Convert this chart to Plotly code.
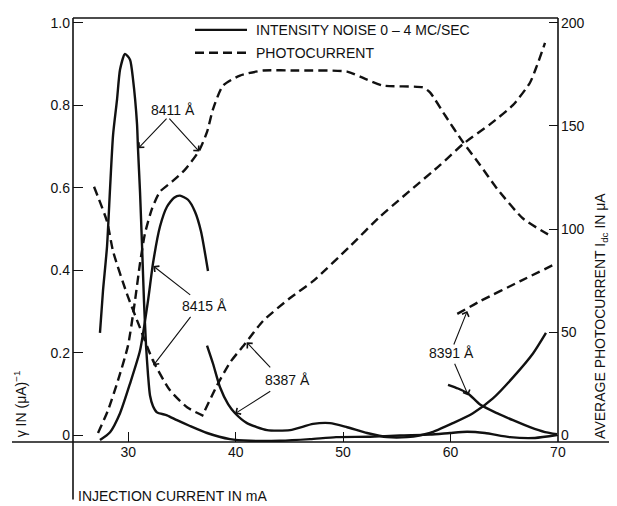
import plotly.graph_objects as go

# ---------------- data ----------------
# Intensity noise gamma (left axis, (uA)^-1), solid lines
s8411_x = [27.36, 27.64, 28.02, 28.30, 28.58, 28.95, 29.23, 29.69, 30.16, 30.44, 30.81, 30.90, 31.09,
           31.28, 31.46, 31.65, 31.84, 32.02, 32.30, 32.67, 33.6, 34.53, 35.74, 37.33, 39.47, 41.33,
           44.12, 46.92, 49.34, 52.5, 55.3, 58.09, 59.95, 61.54, 63.21, 65.54, 67.87, 69.92]
s8411_g = [0.248, 0.349, 0.458, 0.598, 0.728, 0.814, 0.887, 0.925, 0.911, 0.863, 0.755, 0.696, 0.590,
           0.458, 0.325, 0.217, 0.145, 0.096, 0.070, 0.055, 0.048, 0.036, 0.022, 0.005, -0.010, -0.014,
           -0.014, -0.010, -0.005, -0.004, -0.001, 0.001, 0.005, 0.008, 0.005, -0.005, -0.007, 0.0]

s8415_x = [27.36, 28.3, 29.23, 30.16, 31.09, 31.83, 32.3, 32.95, 33.6, 34.26, 34.81, 35.56, 36.21, 36.77, 37.42]
s8415_g = [-0.012, 0.007, 0.053, 0.125, 0.205, 0.325, 0.417, 0.506, 0.554, 0.576, 0.581, 0.571, 0.542, 0.494, 0.398]

s8387_x = [37.33, 37.89, 38.54, 39.29, 39.94, 41.05, 42.92, 45.06, 47.2, 48.78, 50.37, 52.23, 54.09,
           55.95, 58.09, 60.23, 62.09, 63.95, 65.82, 67.68, 68.89]
s8387_g = [0.217, 0.173, 0.116, 0.075, 0.053, 0.029, 0.012, 0.012, 0.027, 0.029, 0.019, 0.005, -0.005,
           -0.005, 0.005, 0.029, 0.053, 0.089, 0.140, 0.198, 0.248]

s8391_x = [59.77, 60.7, 61.63, 62.75, 64.33, 65.82, 67.4, 68.8, 69.92]
s8391_g = [0.122, 0.113, 0.101, 0.074, 0.053, 0.036, 0.019, 0.007, 0.002]

# Average photocurrent (right axis, uA), dashed lines
p8411_x = [27.18, 28.11, 29.04, 29.97, 30.62, 31.09, 31.55, 32.21, 32.95, 34.07, 35.28, 36.58, 37.33,
           37.89, 38.82, 40.4, 42.55, 45.71, 50.37, 52.23, 53.72, 57.44, 58.09, 59.49, 61.16, 62.75,
           64.33, 66.75, 69.08]
p8411_i = [1.0, 12.0, 26.5, 43.4, 65.1, 83.4, 97.8, 109.9, 118.1, 123.0, 128.8, 137.9, 147.1,
           158.2, 169.6, 174.5, 176.9, 176.9, 176.4, 172.5, 169.6, 168.7, 166.3, 155.2, 142.2, 131.1,
           119.6, 105.1, 97.4]

p8415_x = [26.81, 28.02, 28.58, 29.88, 31.09, 32.3, 33.88, 35.47, 37.42]
p8415_i = [120.5, 103.6, 89.2, 68.4, 52.0, 36.1, 21.7, 13.5, 8.2]

p8387_x = [37.14, 38.26, 39.47, 40.87, 42.55, 45.06, 47.2, 50.64, 53.43, 59.02, 61.16, 63.67, 65.81,
           67.4, 68.05, 68.8]
p8387_i = [12.0, 24.1, 35.2, 44.3, 55.4, 66.5, 74.7, 91.6, 106.0, 131.0, 141.2, 150.8, 160.1,
           171.0, 179.3, 190.3]

p8391_x = [60.63, 62.77, 66.5, 69.9]
p8391_i = [58.8, 65.0, 74.7, 83.4]

x_ticks = [30, 40, 50, 60, 70]
g_ticks = [0, 0.2, 0.4, 0.6, 0.8, 1.0]
g_labels = ["0", "0.2", "0.4", "0.6", "0.8", "1.0"]
i_ticks = [0, 50, 100, 150, 200]

# ---------------- figure ----------------
FONT = "Liberation Sans, Arial, sans-serif"
BLACK = "#111111"
SOLID = dict(color=BLACK, width=2.4)
DASH = dict(color=BLACK, width=2.4, dash="9px,5px")

fig = go.Figure()
for xs, ys in [(s8411_x, s8411_g), (s8415_x, s8415_g), (s8387_x, s8387_g), (s8391_x, s8391_g)]:
    fig.add_trace(go.Scatter(x=xs, y=ys, mode="lines", line=dict(**SOLID, shape="spline", smoothing=0.6),
                             showlegend=False, hoverinfo="skip"))
for xs, ys in [(p8411_x, p8411_i), (p8415_x, p8415_i), (p8387_x, p8387_i), (p8391_x, p8391_i)]:
    fig.add_trace(go.Scatter(x=xs, y=ys, mode="lines", yaxis="y2",
                             line=dict(**DASH, shape="spline", smoothing=0.6),
                             showlegend=False, hoverinfo="skip"))

# the page body has an 8px margin on the left and top, so the figure is 8px smaller there
fig.update_layout(
    width=609, height=498,
    margin=dict(l=65, r=59, t=7, b=64),
    paper_bgcolor="white", plot_bgcolor="white",
    font=dict(family=FONT, size=14, color=BLACK),
    xaxis=dict(range=[24.85, 70.01], tickvals=x_ticks, ticks="inside", ticklen=10, tickwidth=1.3,
               tickcolor=BLACK, showgrid=False, zeroline=False, showline=False,
               tickfont=dict(size=14)),
    yaxis=dict(range=[-0.01687, 1.01205], tickvals=g_ticks, ticktext=g_labels, ticks="inside",
               ticklen=10, tickwidth=1.3, tickcolor=BLACK, showgrid=False, zeroline=False,
               showline=False, tickfont=dict(size=14), ticklabelstandoff=2),
    yaxis2=dict(range=[-3.373, 202.41], tickvals=i_ticks, ticks="inside", ticklen=9, tickwidth=1.3,
                tickcolor=BLACK, overlaying="y", side="right", showgrid=False, zeroline=False,
                showline=False, tickfont=dict(size=14), ticklabelstandoff=2),
)

# helpers: page pixel -> paper coordinates (plot area spans x 73..558, y 15..442 on the page)
def px_x(px):
    return (px - 73) / 485.0

def px_y(py):
    return (442 - py) / 427.0

line_k = dict(color=BLACK, width=1.6)
fig.add_shape(type="line", xref="paper", yref="paper", x0=px_x(12), x1=px_x(617), y0=0, y1=0, line=line_k)
fig.add_shape(type="line", xref="paper", yref="paper", x0=0, x1=0, y0=px_y(500), y1=1, line=line_k)
fig.add_shape(type="line", xref="paper", yref="paper", x0=1, x1=1, y0=0, y1=1, line=line_k)
fig.add_shape(type="line", xref="paper", yref="paper", x0=0, x1=1, y0=1, y1=1, line=line_k)

# legend drawn by hand
fig.add_shape(type="line", xref="paper", yref="paper", x0=px_x(195), x1=px_x(247), y0=px_y(27), y1=px_y(27),
              line=dict(color=BLACK, width=2.4))
fig.add_shape(type="line", xref="paper", yref="paper", x0=px_x(195), x1=px_x(247), y0=px_y(50), y1=px_y(50),
              line=dict(color=BLACK, width=2.4, dash="9px,5px"))
fig.add_annotation(xref="paper", yref="paper", x=px_x(254), y=px_y(27), xanchor="left", yanchor="middle",
                   text="INTENSITY NOISE 0 – 4 MC/SEC", showarrow=False, font=dict(size=14))
fig.add_annotation(xref="paper", yref="paper", x=px_x(254), y=px_y(50), xanchor="left", yanchor="middle",
                   text="PHOTOCURRENT", showarrow=False, font=dict(size=14))

# axis titles
fig.add_annotation(xref="paper", yref="paper", x=px_x(20), y=px_y(404), xanchor="center", yanchor="middle",
                   text="γ IN (μA)<sup>−1</sup>", textangle=-90, showarrow=False, font=dict(size=14))
fig.add_annotation(xref="paper", yref="paper", x=px_x(601), y=px_y(315), xanchor="center", yanchor="middle",
                   text="AVERAGE PHOTOCURRENT I<sub>dc</sub> IN μA", textangle=-90, showarrow=False,
                   font=dict(size=14))
fig.add_annotation(xref="paper", yref="paper", x=px_x(76), y=px_y(496), xanchor="left", yanchor="middle",
                   text="INJECTION CURRENT IN mA", showarrow=False, font=dict(size=14))

# wavelength labels with arrows
labels = [
    ("8411 Å", 34.2, 0.790),
    ("8415 Å", 37.09, 0.313),
    ("8387 Å", 44.82, 0.1325),
    ("8391 Å", 60.09, 0.200),
]
for txt, lx, ly in labels:
    fig.add_annotation(x=lx, y=ly, xref="x", yref="y", text=txt, showarrow=False, font=dict(size=14))

arrows = [
    # head x, head y (gamma units), tail offset px
    (30.93, 0.696, 29.7, -31),
    (36.61, 0.688, -31.3, -34.3),
    (32.33, 0.410, 38.4, 30),
    (32.33, 0.169, 38.4, -50),
    (41.02, 0.225, 25, 26.6),
    (39.94, 0.052, 36.7, -23.3),
    (61.56, 0.301, -14, 35),
    (61.66, 0.096, -14.3, -33.3),
]
for hx, hy, ax, ay in arrows:
    fig.add_annotation(x=hx, y=hy, xref="x", yref="y", text="", showarrow=True, ax=ax, ay=ay,
                       arrowhead=4, arrowsize=1.3, arrowwidth=1.1, arrowcolor=BLACK, standoff=0)

fig.write_html("out.html")
